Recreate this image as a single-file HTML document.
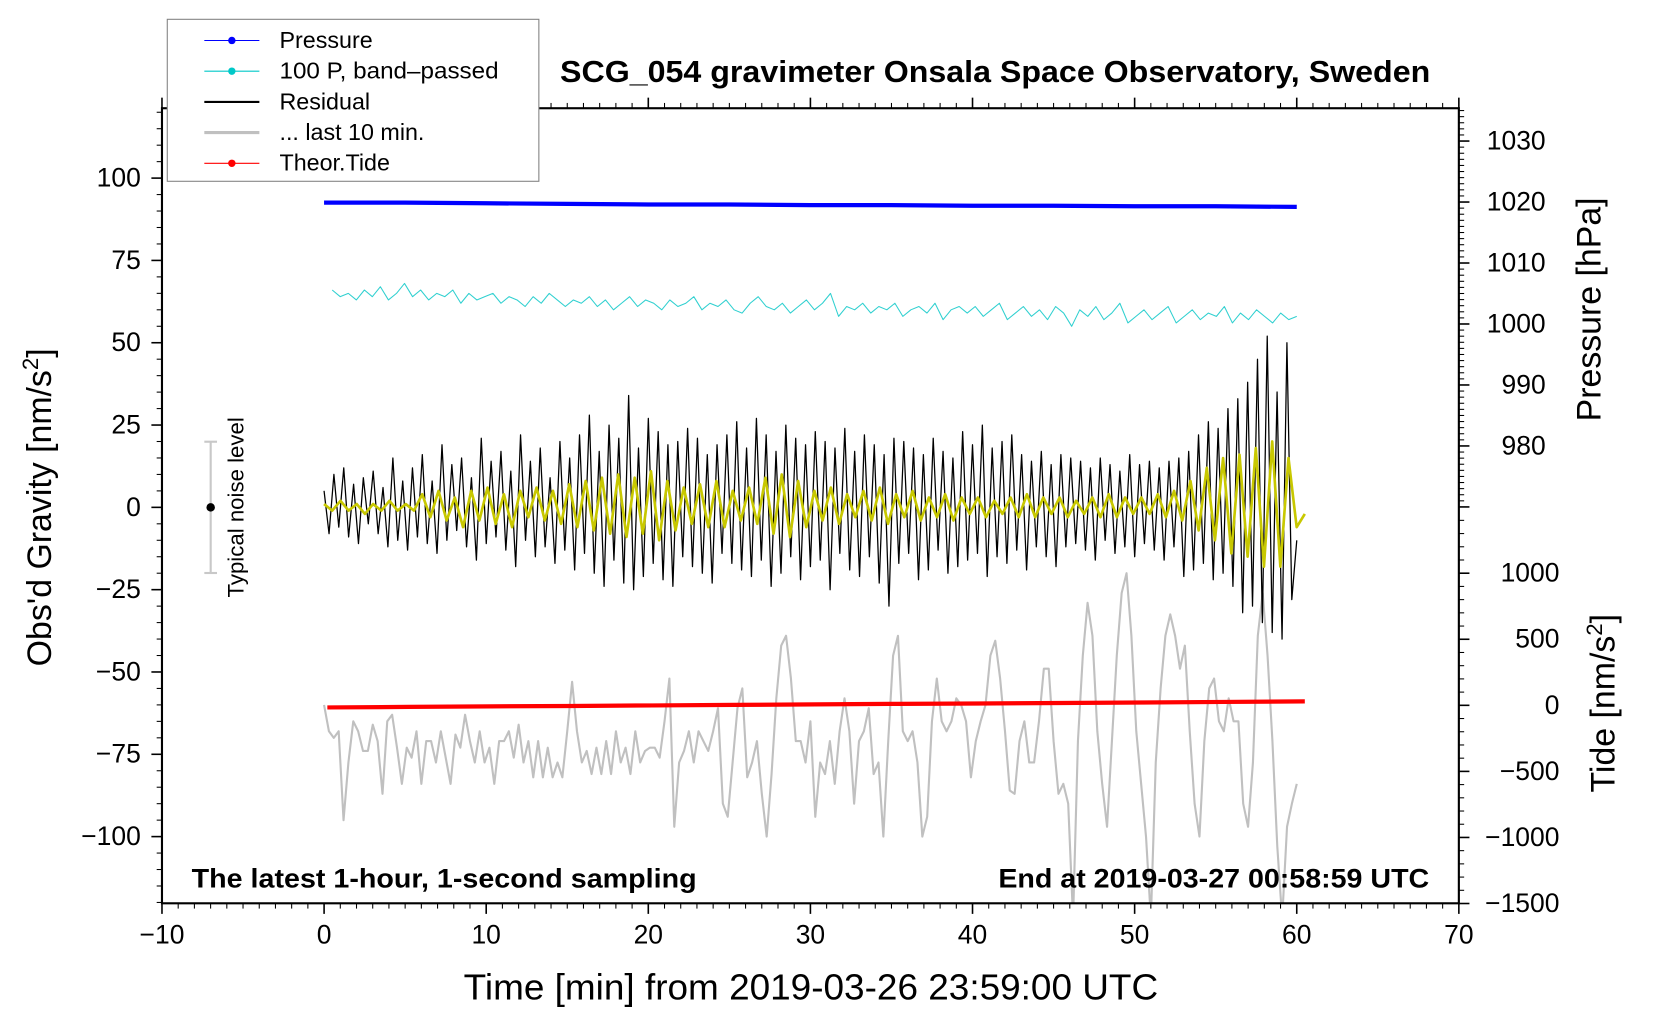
<!DOCTYPE html>
<html><head><meta charset="utf-8"><style>
html,body{margin:0;padding:0;background:#fff}
svg{display:block;font-family:"Liberation Sans",sans-serif}
</style></head><body>
<svg id="chart" width="1660" height="1020" viewBox="0 0 1568 963" xmlns="http://www.w3.org/2000/svg">
<defs><clipPath id="clip"><rect x="153" y="102" width="1225" height="751"/></clipPath></defs>
<g id="marks" clip-path="url(#clip)"></g>
<g id="axes"></g>
<text x="940" y="77" font-size="29" font-weight="bold" text-anchor="middle" textLength="822" lengthAdjust="spacingAndGlyphs">SCG_054 gravimeter Onsala Space Observatory, Sweden</text>
<text x="181" y="838" font-size="25" font-weight="bold" textLength="477" lengthAdjust="spacingAndGlyphs">The latest 1-hour, 1-second sampling</text>
<text x="943" y="838" font-size="25" font-weight="bold" textLength="407" lengthAdjust="spacingAndGlyphs">End at 2019-03-27 00:58:59 UTC</text>
<text x="438" y="944" font-size="34" textLength="656" lengthAdjust="spacingAndGlyphs">Time [min] from 2019-03-26 23:59:00 UTC</text>
<text transform="translate(48,479) rotate(-90)" font-size="32" text-anchor="middle">Obs'd Gravity [nm/s<tspan dy="-12" font-size="21">2</tspan><tspan dy="12">]</tspan></text>
<text transform="translate(1512,292) rotate(-90)" font-size="32" text-anchor="middle">Pressure [hPa]</text>
<text transform="translate(1525,664) rotate(-90)" font-size="32" text-anchor="middle">Tide [nm/s<tspan dy="-12" font-size="21">2</tspan><tspan dy="12">]</tspan></text>
<g>
<line x1="199" y1="417" x2="199" y2="541" stroke="#c8c8c8" stroke-width="2"/>
<line x1="193" y1="417" x2="205" y2="417" stroke="#c8c8c8" stroke-width="2"/>
<line x1="193" y1="541" x2="205" y2="541" stroke="#c8c8c8" stroke-width="2"/>
<circle cx="199" cy="479" r="4" fill="#000"/>
<text transform="translate(230,479) rotate(-90)" font-size="21" text-anchor="middle">Typical noise level</text>
</g>
<g>
<rect x="158" y="18" width="351" height="153" fill="#fff" stroke="#808080" stroke-width="1"/>
<g><line x1="193" y1="38" x2="245" y2="38" stroke="#0000ff" stroke-width="1"/><circle cx="219" cy="38" r="3.5" fill="#0000ff"/><text x="264" y="45" font-size="22">Pressure</text></g>
<g><line x1="193" y1="67" x2="245" y2="67" stroke="#00c8c8" stroke-width="1"/><circle cx="219" cy="67" r="3.5" fill="#00c8c8"/><text x="264" y="74" font-size="22" textLength="207" lengthAdjust="spacingAndGlyphs">100 P, band–passed</text></g>
<g><line x1="193" y1="96" x2="245" y2="96" stroke="#000" stroke-width="2"/><text x="264" y="103" font-size="22">Residual</text></g>
<g><line x1="193" y1="125" x2="245" y2="125" stroke="#c0c0c0" stroke-width="3"/><text x="264" y="132" font-size="22">... last 10 min.</text></g>
<g><line x1="193" y1="154" x2="245" y2="154" stroke="#ff0000" stroke-width="1"/><circle cx="219" cy="154" r="3.5" fill="#ff0000"/><text x="264" y="161" font-size="22">Theor.Tide</text></g>
</g>
</svg>
<script>
const residual = [5,-8,10,-6,12,-9,7,-11,9,-5,11,-8,6,-12,15,-10,8,
-13,12,-9,16,-11,8,-14,19,-10,13,-7,15,-12,9,-16,21,-11,14,-9,17,-13,11,-18,22,-10,14,-15,18,-12,9,-17,20,-13,15,
-19,22,-14,28,-20,17,-24,25,-16,21,-23,34,-25,18,-21,27,-17,23,-22,19,-24,20,-15,24,-18,21,-20,16,-23,19,-14,22,-17,
26,-19,18,-21,27,-16,22,-24,17,-20,25,-15,21,-22,19,-18,23,-16,20,-25,18,-14,24,-19,17,-21,22,-15,19,-23,16,-30,21,
-17,20,-14,18,-22,16,-19,21,-13,17,-20,15,-18,23,-16,19,-14,25,-21,18,-15,20,-17,22,-13,16,-19,14,-12,17,-15,13,-18,16,
-12,15,-11,14,-13,12,-16,15,-10,13,-14,11,-12,16,-15,13,-11,14,-13,12,-16,14,-12,15,-21,17,
-19,22,-17,26,-22,24,-20,30,-24,33,
-32,38,-30,45,-35,52,-38,35,-40,50,-28,-10];
const filtered = [1,-1,2,-1,1,-2,1,-1,2,-1,1,-1,
4,-3,5,-4,3,-6,5,-4,6,-5,4,-6,5,-3,6,-4,5,-5,
7,-6,8,-7,9,-8,10,-9,9,-8,11,-10,8,-7,
6,-5,7,-6,8,-6,5,-4,6,-5,9,-8,10,-9,8,-6,
5,-4,6,-5,4,-3,5,-4,6,-5,4,-3,5,-4,3,-3,4,-4,3,-2,
3,-3,2,-2,3,-3,4,-3,3,-2,3,-3,2,-2,3,-3,4,-3,3,-2,3,-2,4,-3,5,-4,
8,-7,12,-10,15,-14,16,-15,18,-18,20,-18,15,-6,-2];
const last10 = [-60,-68,-70,-68,-95,-77.5,-65,-68,-74,-74,-66,-71,-87,-65,-63,-73,-84,-73,-76,-68,-84,-71,-71,-77.5,-68,-76,-84,-69,-73,-63,-71,-77.5,-68,-77.5,-73,-84,-71,-71,-68,-76,-66,-77.5,-71,-82,-71,-82,-73,-82,-77.5,-82,-68,-53,-68,-77.5,-74,-81,-73,-81,-71,-81,-68,-77.5,-73,-81,-68,-77.5,-74,-73,-73,-76,-65,-52,-97,-77.5,-74,-68,-77.5,-68,-71,-74,-68,-61,-90,-94,-77.5,-61,-55,-82,-77.5,-71,-87,-100,-81,-58,-42,-39,-52,-71,-71,-77.5,-65,-94,-77.5,-81,-71,-84,-68,-58,-68,-90,-71,-68,-61,-81,-77.5,-100,-71,-45,-39,-68,-71,-68,-77.5,-100,-94,-65,-52,-65,-68,-65,-58,-60,-65,-82,-71,-65,-60,-45,-40.5,-52,-68,-86,-87,-71,-65,-77.5,-77.5,-65,-49,-49,-71,-87,-84,-90,-125,-71,-45,-29,-39,-68,-84,-97,-71,-45,-26,-20,-39,-68,-84,-100,-125,-77.5,-55,-39,-32.5,-39,-49,-42,-68,-90,-100,-71,-55,-52,-65,-68,-58,-65,-65,-90,-97,-77.5,-39,-26,-45,-71,-103,-125,-97,-90,-84];
const bandpassed = [66,64,65,63,66,64,67,63,65,68,64,66,63,65,64,66,62,65,63,64,65,62,64,63,61,64,62,65,63,61,63,62,64,61,63,60,62,64,61,63,62,60,63,61,62,64,60,62,61,63,60,59,62,64,61,60,62,59,61,63,60,62,65,58,61,60,62,59,61,60,62,58,60,61,59,62,57,60,61,59,61,58,60,62,57,59,61,58,60,57,61,59,55,60,58,61,57,59,62,56,58,60,57,59,61,56,58,60,57,59,58,61,56,59,57,60,58,56,59,57,58];
const pressureHPa = [1019.9,1019.9,1019.8,1019.7,1019.6,1019.6,1019.5,1019.5,1019.4,1019.4,1019.3,1019.3,1019.2];
const tideNm = [-16,-12,-8,-5,-1,3,7,11,14,18,22,26,30];
const xTicks = [-10,0,10,20,30,40,50,60,70];
const gTicks = [-100,-75,-50,-25,0,25,50,75,100];
const pTicks = [980,990,1000,1010,1020,1030];
const tTicks = [-1500,-1000,-500,0,500,1000];

const X0=153,X1=1378,Y0=102,Y1=853;
const xs = t => X0 + (t+10)/80*(X1-X0);
const yg = v => 479 - v*3.11;
const yp = p => 133 + (1030-p)*5.76;
const yt = v => 666 - v*0.1248;
const NS='http://www.w3.org/2000/svg';
const marks=document.getElementById('marks'), axes=document.getElementById('axes');
function mk(tag, attrs, parent){const e=document.createElementNS(NS,tag);for(const k in attrs)e.setAttribute(k,attrs[k]);parent.appendChild(e);return e;}
function series(arr,t0,t1,ymap,color,w,name){
  const pts=arr.map((v,i)=>xs(t0+(t1-t0)*i/(arr.length-1)).toFixed(1)+','+ymap(v).toFixed(1)).join(' ');
  const p=mk('polyline',{points:pts,fill:'none',stroke:color,'stroke-width':w,'stroke-linejoin':'round'},marks);
  
  
}
series(last10,0,60,yg,'#c0c0c0',2,'last-10-min-line');
series(tideNm,0.2,60.5,yt,'#ff0000',4,'theoretical-tide-line');
series(pressureHPa,0,60,yp,'#0000ff',4,'pressure-line');
series(bandpassed,0.5,60,yg,'#30d0d0',1,'bandpassed-pressure-line');
series(residual,0,60,yg,'#000000',1.2,'residual-line');
series(filtered,0,60.5,yg,'#c8c800',2.5,'filtered-residual-line');

mk('rect',{x:X0,y:Y0,width:X1-X0,height:Y1-Y0,fill:'none',stroke:'#000','stroke-width':2},axes);
function tick(x1,y1,x2,y2,w){mk('line',{x1,y1,x2,y2,stroke:'#000','stroke-width':w||1},axes);}
for(let t=-10;t<=70;t++){const x=xs(t),maj=t%10===0;tick(x,Y1,x,Y1+(maj?10:5),maj?1.5:1);tick(x,Y0,x,Y0-(maj?10:5),maj?1.5:1);}
xTicks.forEach(t=>{const e=mk('text',{x:xs(t),y:Y1+38,'font-size':25,'text-anchor':'middle'},axes);e.textContent=String(t).replace('-','−');

});
for(let v=-120;v<=120;v+=5){const y=yg(v),maj=v%25===0;tick(X0,y,X0-(maj?10:5),y,maj?1.5:1);}
gTicks.forEach(v=>{const e=mk('text',{x:X0-20,y:yg(v)+8,'font-size':25,'text-anchor':'end'},axes);e.textContent=String(v).replace('-','−');

});
for(let p=970;p<=1035;p++){const y=yp(p),maj=p%10===0;tick(X1,y,X1+(maj?10:5),y,maj?1.5:1);}
pTicks.forEach(v=>{const e=mk('text',{x:1460,y:yp(v)+8,'font-size':25,'text-anchor':'end'},axes);e.textContent=v;

});
for(let v=-1500;v<=1400;v+=100){const y=yt(v),maj=v%500===0;tick(X1,y,X1+(maj?10:5),y,maj?1.5:1);}
tTicks.forEach(v=>{const e=mk('text',{x:1473,y:yt(v)+8,'font-size':25,'text-anchor':'end'},axes);e.textContent=String(v).replace('-','−');

});
</script>
</body></html>
